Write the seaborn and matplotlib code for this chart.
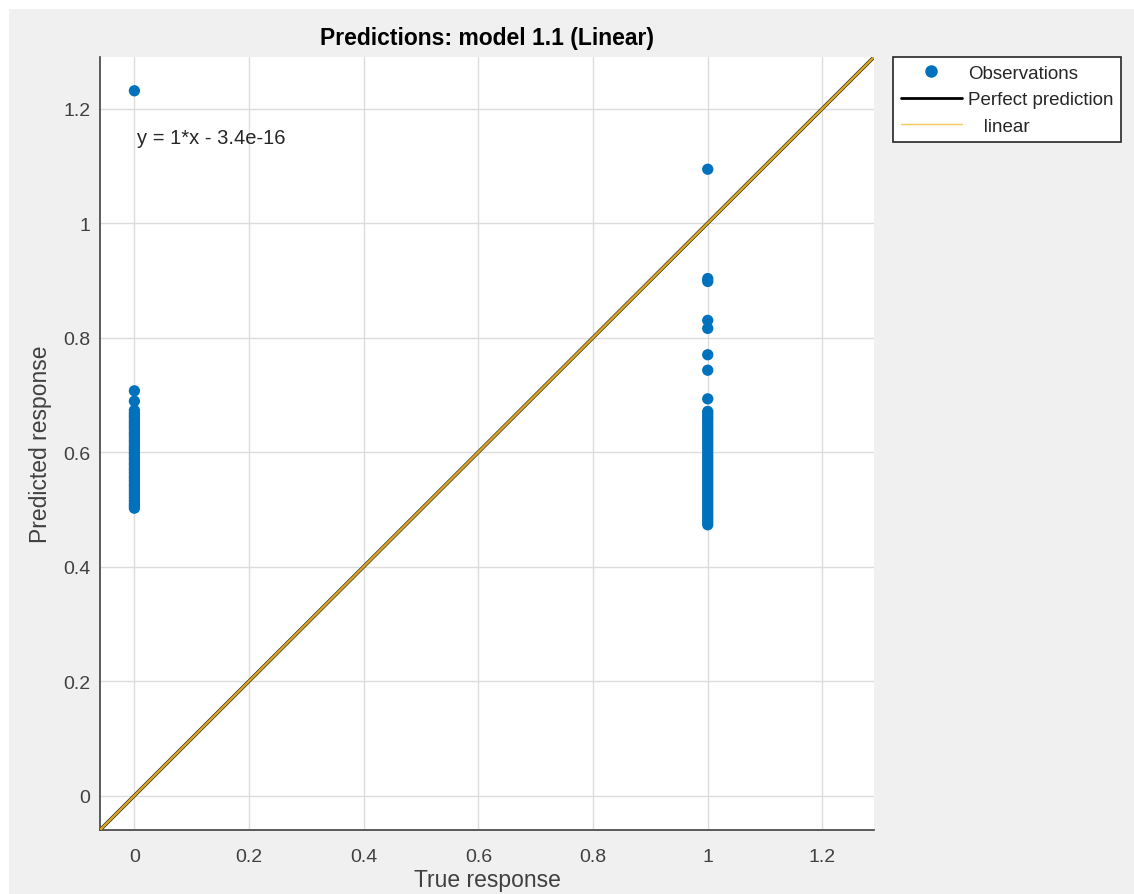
import matplotlib
matplotlib.use('Agg')
import matplotlib.pyplot as plt
from matplotlib.patches import Rectangle
from matplotlib.lines import Line2D
import seaborn as sns
import pandas as pd

sns.set_style('white')
plt.rcParams['font.family'] = ['Liberation Sans', 'DejaVu Sans']

# predicted responses for true response = 0
pred_0 = [1.231, 0.707, 0.689, 0.673, 0.668, 0.664, 0.660, 0.655, 0.651, 0.647,
          0.643, 0.639, 0.634, 0.630, 0.626, 0.621, 0.617, 0.612, 0.608, 0.604,
          0.599, 0.595, 0.590, 0.586, 0.581, 0.577, 0.572, 0.568, 0.563, 0.558,
          0.554, 0.549, 0.544, 0.540, 0.535, 0.530, 0.525, 0.520, 0.515, 0.510,
          0.506, 0.502]
# predicted responses for true response = 1
pred_1 = [1.094, 0.903, 0.898, 0.830, 0.816, 0.770, 0.743, 0.693, 0.671, 0.667,
          0.662, 0.658, 0.653, 0.648, 0.643, 0.638, 0.633, 0.628, 0.623, 0.618,
          0.613, 0.608, 0.603, 0.598, 0.593, 0.588, 0.583, 0.578, 0.573, 0.568,
          0.563, 0.558, 0.553, 0.548, 0.543, 0.538, 0.533, 0.528, 0.523, 0.518,
          0.513, 0.508, 0.503, 0.498, 0.493, 0.488, 0.483, 0.478, 0.473]

df = pd.DataFrame({
    'true': [0] * len(pred_0) + [1] * len(pred_1),
    'pred': pred_0 + pred_1,
})

ticks = [0, 0.2, 0.4, 0.6, 0.8, 1, 1.2]
tick_labels = ['0', '0.2', '0.4', '0.6', '0.8', '1', '1.2']
lims = (-0.06, 1.29)

fig = plt.figure(figsize=(11.34, 8.95), dpi=100, facecolor='white')
fig.patches.append(Rectangle((9 / 1134, 0), 1, 1 - 10 / 895, transform=fig.transFigure,
                             facecolor='#f0f0f0', edgecolor='none', zorder=-10))
ax = fig.add_axes([100 / 1134, 1 - 831 / 895, 774 / 1134, 773 / 895])
ax.set_facecolor('white')

ax.set_xlim(lims)
ax.set_ylim(lims)
ax.set_xticks(ticks)
ax.set_xticklabels(tick_labels)
ax.set_yticks(ticks)
ax.set_yticklabels(tick_labels)
ax.grid(True, color='#dcdcdc', linewidth=1)
ax.set_axisbelow(True)

ax.axline((0, 0), slope=1, color='#1a1a1a', linewidth=2.6, zorder=2)
ax.axline((0, 0), slope=1, color='#d9a520', linewidth=1.8, zorder=3)

sns.scatterplot(data=df, x='true', y='pred', ax=ax, color='#0072BD', s=66,
                edgecolor='none', zorder=4, legend=False)

ax.text(0.004, 1.15, 'y = 1*x - 3.4e-16', fontsize=14.5, color='#262626',
        ha='left', va='center')

for side in ['top', 'right']:
    ax.spines[side].set_visible(False)
for side in ['left', 'bottom']:
    ax.spines[side].set_color('#404040')
    ax.spines[side].set_linewidth(1.2)
ax.tick_params(direction='in', length=5, width=1, colors='#404040',
               labelsize=14, labelcolor='#404040')
ax.tick_params(axis='x', pad=13)
ax.tick_params(axis='y', pad=7)

ax.set_title('Predictions: model 1.1 (Linear)', fontsize=16.5, fontweight='bold',
             color='black', pad=9)
ax.set_xlabel('True response', fontsize=16.5, color='#404040', labelpad=2)
ax.set_ylabel('Predicted response', fontsize=16.5, color='#404040', labelpad=8)

handles = [
    Line2D([], [], marker='o', linestyle='none', color='#0072BD', markersize=8),
    Line2D([], [], color='black', linewidth=2),
    Line2D([], [], color='#f5c860', linewidth=1),
]
leg = ax.legend(handles, ['Observations', 'Perfect prediction', '   linear'],
                loc='upper left', bbox_to_anchor=(893 / 1134, 1 - 58 / 895),
                bbox_transform=fig.transFigure, frameon=True, fancybox=False,
                edgecolor='#262626', framealpha=1, fontsize=13.5,
                handlelength=3.3, handletextpad=0.3, borderpad=0.4,
                labelspacing=0.5, borderaxespad=0)
leg.get_frame().set_linewidth(1.2)
for t in leg.get_texts():
    t.set_color('#262626')

fig.savefig('out.png', dpi=100, facecolor=fig.get_facecolor())
